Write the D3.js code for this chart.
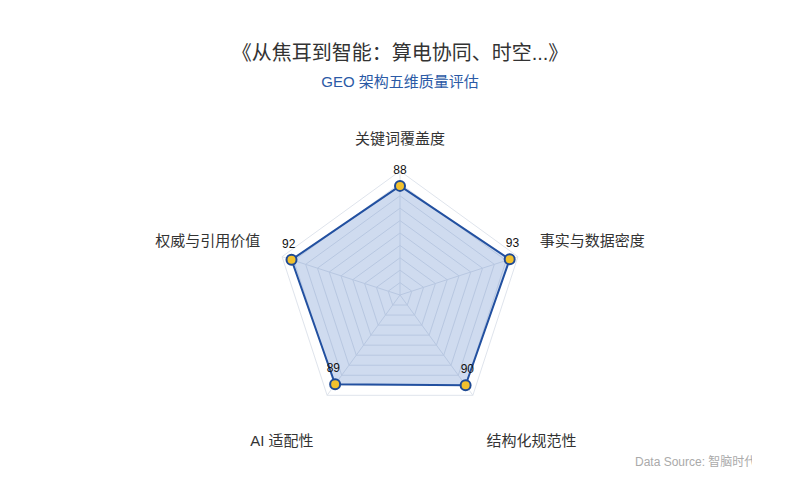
<!DOCTYPE html>
<html>
<head>
<meta charset="utf-8">
<title></title>
<script src="https://d3js.org/d3.v7.min.js"></script>
<style>
  body { margin: 0; background: #fff; }
  svg { font-family: "Liberation Sans", "Noto Sans CJK SC", sans-serif; }
</style>
</head>
<body>
<svg width="800" height="500"></svg>
<script>
  // data
  var indicators = ["关键词覆盖度", "事实与数据密度", "结构化规范性", "AI 适配性", "权威与引用价值"];
  var scores = [88, 93, 90, 89, 92];
  var maxScore = 100;
  var splitCount = 10;

  var svg = d3.select("svg"),
      cx = 400, cy = 295, radius = 124;

  var r = d3.scaleLinear().domain([0, maxScore]).range([0, radius]);
  var angle = function(i) { return i * 2 * Math.PI / indicators.length; };
  var px = function(i, v) { return cx + r(v) * Math.sin(angle(i)); };
  var py = function(i, v) { return cy - r(v) * Math.cos(angle(i)); };

  // title
  svg.append("text")
    .attr("x", 400).attr("y", 60)
    .attr("text-anchor", "middle")
    .attr("font-size", 20)
    .attr("fill", "#333")
    .text("《从焦耳到智能：算电协同、时空...》");

  svg.append("text")
    .attr("x", 400).attr("y", 87)
    .attr("text-anchor", "middle")
    .attr("font-size", 15)
    .attr("fill", "#2b5aa6")
    .text("GEO 架构五维质量评估");

  // grid rings
  var levels = d3.range(1, splitCount + 1).map(function(k) { return k * maxScore / splitCount; });
  var grid = svg.append("g");
  grid.selectAll("polygon")
    .data(levels)
    .enter().append("polygon")
    .attr("points", function(l) {
      return indicators.map(function(d, i) { return px(i, l) + "," + py(i, l); }).join(" ");
    })
    .attr("fill", "none")
    .attr("stroke", "#dfe4ec")
    .attr("stroke-width", 1);

  grid.selectAll("line")
    .data(indicators)
    .enter().append("line")
    .attr("x1", cx).attr("y1", cy)
    .attr("x2", function(d, i) { return px(i, maxScore); })
    .attr("y2", function(d, i) { return py(i, maxScore); })
    .attr("stroke", "#dfe4ec")
    .attr("stroke-width", 1);

  // indicator names
  svg.append("g")
    .selectAll("text")
    .data(indicators)
    .enter().append("text")
    .attr("x", function(d, i) { return px(i, maxScore) + 23 * Math.sin(angle(i)); })
    .attr("y", function(d, i) { return py(i, maxScore) - 23 * Math.cos(angle(i)); })
    .attr("dy", function(d, i) { return Math.cos(angle(i)) < 0 ? "2.15em" : "-0.25em"; })
    .attr("text-anchor", function(d, i) {
      var s = Math.sin(angle(i));
      return Math.abs(s) < 0.01 ? "middle" : (s > 0 ? "start" : "end");
    })
    .attr("font-size", 15)
    .attr("fill", "#333")
    .text(function(d) { return d; });

  // area
  var line = d3.lineRadial()
    .angle(function(d, i) { return angle(i); })
    .radius(function(d) { return r(d); })
    .curve(d3.curveLinearClosed);

  var g = svg.append("g").attr("transform", "translate(" + cx + "," + cy + ")");
  g.append("path")
    .datum(scores)
    .attr("d", line)
    .attr("fill", "rgba(84,124,196,0.28)")
    .attr("stroke", "#2250a0")
    .attr("stroke-width", 2)
    .attr("stroke-linejoin", "round");

  // points
  svg.append("g")
    .selectAll("circle")
    .data(scores)
    .enter().append("circle")
    .attr("cx", function(d, i) { return px(i, d); })
    .attr("cy", function(d, i) { return py(i, d); })
    .attr("r", 5)
    .attr("fill", "#f2c12e")
    .attr("stroke", "#1f4a94")
    .attr("stroke-width", 2);

  // value labels
  svg.append("g")
    .selectAll("text")
    .data(scores)
    .enter().append("text")
    .attr("x", function(d, i) { return px(i, d) + 3 * Math.sin(angle(i)); })
    .attr("y", function(d, i) { return py(i, d) - 12; })
    .attr("text-anchor", "middle")
    .attr("font-size", 12)
    .attr("fill", "#111")
    .text(function(d) { return d; });

  // source (clipped like original)
  svg.append("clipPath").attr("id", "srcClip")
    .append("rect").attr("x", 600).attr("y", 440).attr("width", 152).attr("height", 40);
  svg.append("text")
    .attr("x", 635).attr("y", 466)
    .attr("clip-path", "url(#srcClip)")
    .attr("font-size", 12)
    .attr("fill", "#aaa")
    .text("Data Source: 智脑时代");
</script>
</body>
</html>
